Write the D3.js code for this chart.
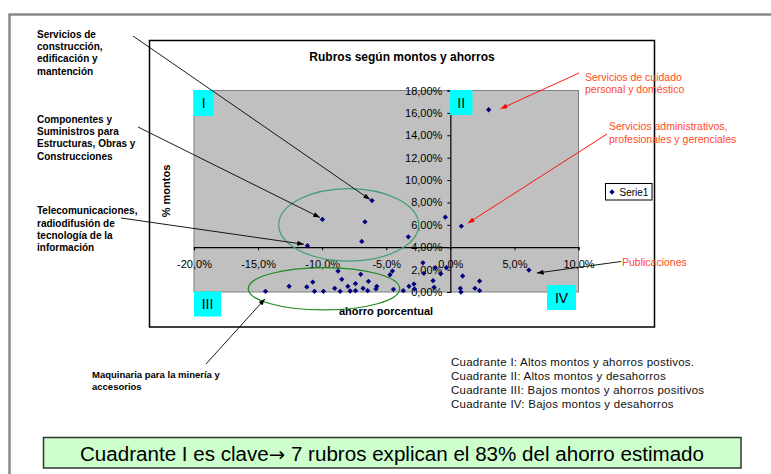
<!DOCTYPE html>
<html>
<head>
<meta charset="utf-8">
<script src="https://cdn.jsdelivr.net/npm/d3@7"></script>
<style>
  body { margin: 0; background: #fff; }
  svg { display: block; font-family: "Liberation Sans", Arial, sans-serif; }
</style>
</head>
<body>
<svg id="chart" width="771" height="474"></svg>
<script>
// Ahorro porcentual (%) per rubro
const ahorro = [
  -6.11, -9.98, -6.66, -6.91, -11.15, -3.28, -0.39, 0.86, 2.99, 6.13,
  -14.42, -12.58, -11.2, -10.73, -10.6, -9.9, -9.02, -8.76, -8.6, -8.47,
  -8.0, -7.82, -7.4, -7.4, -6.99, -6.81, -6.39, -6.45, -5.74, -5.8,
  -4.71, -4.52, -4.44, -3.67, -3.23, -2.84, -2.8, -2.14, -2.06, -1.35,
  -1.27, -1.17, -0.75, -0.31, 0.78, 0.83, 0.96, 1.92, 2.28, 2.28
];
// % montos per rubro
const montos = [
  8.17, 6.48, 6.27, 4.52, 4.13, 4.93, 6.68, 5.88, 16.28, 1.96,
  0.06, 0.51, 0.45, 0.89, 0.06, 0.06, 0.33, 1.87, 0.06, 1.13,
  0.51, 0.09, 0.74, 0.12, 1.58, 0.33, 0.95, 0.12, 0.51, 0.27,
  1.54, 1.87, 0.24, 0.12, 0.51, 0.71, 0.27, 2.61, 1.67, 1.01,
  0.42, 2.17, 1.63, 2.17, 0.33, 0.0, 1.43, 0.33, 0.98, 0.12
];
const xTicks = [-20, -15, -10, -5, 0, 5, 10];
const yTicks = [0, 2, 4, 6, 8, 10, 12, 14, 16, 18];
const seriesName = "Serie1";
const chartTitle = "Rubros según montos y ahorros";
const xTitle = "ahorro porcentual";
const yTitle = "% montos";
const quadrantNames = ["I", "II", "III", "IV"];
const quadrantNotes = [
  "Cuadrante I: Altos montos y ahorros postivos.",
  "Cuadrante II: Altos montos y desahorros",
  "Cuadrante III: Bajos montos y ahorros positivos",
  "Cuadrante IV: Bajos montos y desahorros"
];
const conclusionParts = ["Cuadrante I es clave", "\u2192", " 7 rubros explican el 83% del ahorro estimado"];

// Labelled rubros: text lines and the index of the point they describe
const callouts = [
  { lines: ["Servicios de", "construcción,", "edificación y", "mantención"], point: 0 },
  { lines: ["Componentes y", "Suministros para", "Estructuras, Obras y", "Construcciones"], point: 1 },
  { lines: ["Telecomunicaciones,", "radiodifusión de", "tecnología de la", "información"], point: 4 },
  { lines: ["Maquinaria para la minería y", "accesorios"], point: 10 },
  { lines: ["Servicios de cuidado", "personal y doméstico"], point: 8 },
  { lines: ["Servicios administrativos,", "profesionales y gerenciales"], point: 7 },
  { lines: ["Publicaciones"], point: 9 }
];

// Ellipses grouping rubros (data units: center, radii)
const groups = [
  { cx: -7.93, cy: 6.0, rx: 5.46, ry: 3.24, color: "#3f9f72" },
  { cx: -9.86, cy: 0.29, rx: 5.91, ry: 1.89, color: "#1f8a1f" }
];

// ---- layout ----
const svg = d3.select("#chart");
const plot = { left: 194, right: 578.5, top: 90.5, bottom: 292 };
const x = d3.scaleLinear().domain([-20, 10]).range([plot.left, plot.right]);
const y = d3.scaleLinear().domain([0, 18]).range([plot.bottom, plot.top]);
const locale = d3.formatLocale({ decimal: ",", thousands: ".", grouping: [3], currency: ["", ""], minus: "-" });
const fx = v => locale.format(".1f")(v) + "%";
const fy = v => locale.format(".2f")(v) + "%";

const defs = svg.append("defs");
function marker(id, color) {
  defs.append("marker").attr("id", id)
    .attr("viewBox", "0 0 8 6").attr("refX", 8).attr("refY", 3)
    .attr("markerWidth", 7).attr("markerHeight", 5).attr("markerUnits", "userSpaceOnUse")
    .attr("orient", "auto")
    .append("path").attr("d", "M0,0L8,3L0,6Z").attr("fill", color);
}
marker("arrowK", "#000");
marker("arrowR", "#ff0000");

// Page frame
svg.append("path").attr("d", "M9.5,474V14.5H771").attr("fill", "none")
  .attr("stroke", "#8a8a8a").attr("stroke-width", 2.5);

// Chart box
svg.append("rect").attr("x", 149.5).attr("y", 40.5).attr("width", 505).attr("height", 286.5)
  .attr("fill", "#fff").attr("stroke", "#000").attr("stroke-width", 1.5);

// Plot area
svg.append("rect").attr("x", plot.left).attr("y", plot.top)
  .attr("width", plot.right - plot.left).attr("height", plot.bottom - plot.top)
  .attr("fill", "#c0c0c0").attr("stroke", "#808080").attr("stroke-width", 1);

// Title
svg.append("text").attr("x", 402).attr("y", 61).attr("text-anchor", "middle")
  .attr("font-size", 12).attr("font-weight", "bold").text(chartTitle);

// Axes: x crosses at montos = 4%, y at ahorro = 0%
const xAxis = d3.axisBottom(x).tickValues(xTicks).tickFormat(fx).tickSize(3).tickPadding(10);
const gx = svg.append("g").attr("transform", `translate(0,${y(4)})`).call(xAxis);
const yAxis = d3.axisLeft(y).tickValues(yTicks).tickFormat(fy).tickSize(3).tickPadding(5);
const gy = svg.append("g").attr("transform", `translate(${x(0)},0)`).call(yAxis);
[gx, gy].forEach(g => {
  g.select(".domain").attr("stroke", "#000").attr("stroke-width", 1.2);
  g.selectAll(".tick line").attr("stroke", "#000");
  g.selectAll(".tick text").attr("font-size", 11).attr("fill", "#000")
    .attr("font-family", "'Liberation Sans', Arial, sans-serif");
});

// Axis titles
svg.append("text").attr("x", 386).attr("y", 315).attr("text-anchor", "middle")
  .attr("font-size", 11).attr("font-weight", "bold").text(xTitle);
svg.append("text").attr("transform", "translate(170,191) rotate(-90)").attr("text-anchor", "middle")
  .attr("font-size", 11).attr("font-weight", "bold").text(yTitle);

// Group ellipses
svg.append("g").selectAll("ellipse").data(groups).join("ellipse")
  .attr("cx", d => x(d.cx)).attr("cy", d => y(d.cy))
  .attr("rx", d => x(d.cx + d.rx) - x(d.cx)).attr("ry", d => y(d.cy) - y(d.cy + d.ry))
  .attr("fill", "none").attr("stroke", d => d.color).attr("stroke-width", 1.2);

// Points
const pts = ahorro.map((a, i) => ({ a, m: montos[i] }));
const diamond = d3.symbol().type(d3.symbolSquare).size(14);
svg.append("g").selectAll("path").data(pts).join("path")
  .attr("d", diamond)
  .attr("transform", d => `translate(${x(d.a)},${y(d.m)}) rotate(45)`)
  .attr("fill", "#000080");

// Quadrant tags
const tagBoxes = [
  { x: 194, y: 90, w: 19.5, h: 26 },
  { x: 450, y: 90, w: 22.5, h: 25 },
  { x: 194, y: 291.5, w: 27, h: 25 },
  { x: 547, y: 285, w: 29, h: 25 }
];
const tags = svg.append("g").selectAll("g").data(quadrantNames).join("g")
  .attr("transform", (d, i) => `translate(${tagBoxes[i].x},${tagBoxes[i].y})`);
tags.append("rect").attr("width", (d, i) => tagBoxes[i].w).attr("height", (d, i) => tagBoxes[i].h)
  .attr("fill", "#00ffff");
tags.append("text").attr("x", (d, i) => tagBoxes[i].w / 2).attr("y", (d, i) => tagBoxes[i].h / 2 + 5)
  .attr("text-anchor", "middle").attr("font-size", 14).text(d => d);

// Legend
const lg = svg.append("g").attr("transform", "translate(605.5,183.5)");
lg.append("rect").attr("width", 46.5).attr("height", 16.5).attr("fill", "#fff").attr("stroke", "#000");
lg.append("path").attr("d", diamond).attr("transform", "translate(6.5,8.5) rotate(45)").attr("fill", "#000080");
lg.append("text").attr("x", 14).attr("y", 12.3).attr("font-size", 10).text(seriesName);

// Callouts: label position, line start, arrow tip offset from the point
const calloutLayout = [
  { tx: 37, ty: 34.3, lh: 12.2, sx: 133, sy: 36, off: [-2, -1], bold: true, color: "#000", lineColor: "#000", fs: 10 },
  { tx: 37, ty: 119, lh: 12.3, sx: 138, sy: 127, off: [-2.5, -2], bold: true, color: "#000", lineColor: "#000", fs: 10 },
  { tx: 37, ty: 210.7, lh: 12.2, sx: 121, sy: 218, off: [-3.5, -1.5], bold: true, color: "#000", lineColor: "#000", fs: 10 },
  { tx: 92, ty: 375, lh: 12, sx: 206, sy: 364, off: [-0.5, 7.5], bold: true, color: "#000", lineColor: "#000", fs: 9.5 },
  { tx: 585, ty: 77, lh: 12.5, sx: 579, sy: 73, off: [12, -1], bold: false, color: "#ff4a26", lineColor: "#ff0000", fs: 10.5 },
  { tx: 609, ty: 126, lh: 13, sx: 607, sy: 134, off: [6.5, -3], bold: false, color: "#ff4a26", lineColor: "#ff0000", fs: 10.5 },
  { tx: 622, ty: 262, lh: 12, sx: 621, sy: 261.5, off: [8, 3], bold: false, color: "#ff4a26", lineColor: "#000", fs: 10.5 }
];
const cg = svg.append("g");
callouts.forEach((c, i) => {
  const L = calloutLayout[i];
  const p = pts[c.point];
  cg.append("line").attr("x1", L.sx).attr("y1", L.sy)
    .attr("x2", x(p.a) + L.off[0]).attr("y2", y(p.m) + L.off[1])
    .attr("stroke", L.lineColor).attr("stroke-width", 0.9)
    .attr("marker-end", L.lineColor === "#ff0000" ? "url(#arrowR)" : "url(#arrowK)");
  const t = cg.append("text").attr("font-size", L.fs).attr("fill", L.color)
    .attr("font-weight", L.bold ? "bold" : "normal");
  c.lines.forEach((ln, k) => {
    t.append("tspan").attr("x", L.tx).attr("y", L.ty + k * L.lh + L.fs * 0.36).text(ln);
  });
});

// Quadrant descriptions
svg.append("g").selectAll("text").data(quadrantNotes).join("text")
  .attr("x", 451).attr("y", (d, i) => 366 + i * 14)
  .attr("font-size", 11.5).attr("letter-spacing", 0.25).attr("fill", "#111").text(d => d);

// Conclusion banner
svg.append("rect").attr("x", 43.5).attr("y", 437.5).attr("width", 697.5).attr("height", 30.5)
  .attr("fill", "#ccffcc").attr("stroke", "#333").attr("stroke-width", 1.5);
const banner = svg.append("text").attr("x", 80).attr("y", 460.5).attr("font-size", 20)
  .attr("textLength", 624).attr("lengthAdjust", "spacingAndGlyphs");
banner.append("tspan").text(conclusionParts[0]);
banner.append("tspan").attr("font-family", "'DejaVu Sans', sans-serif").attr("font-size", 19).text(conclusionParts[1]);
banner.append("tspan").text(conclusionParts[2]);
</script>
</body>
</html>
